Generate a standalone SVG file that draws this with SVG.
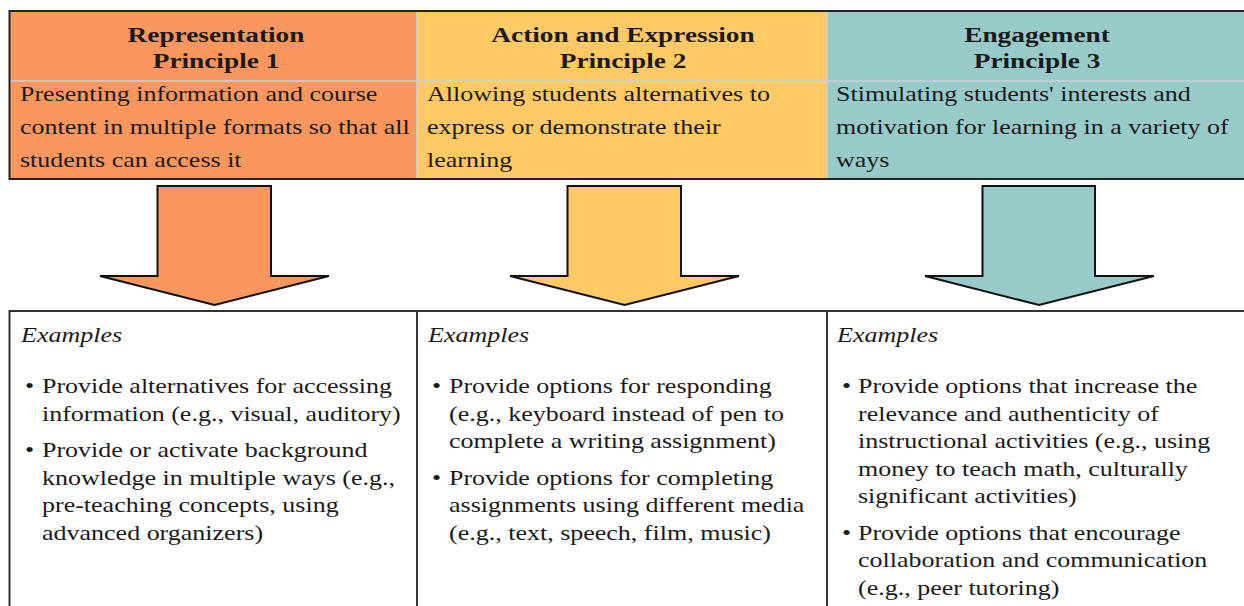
<svg xmlns="http://www.w3.org/2000/svg" width="1244" height="606" viewBox="0 0 1244 606">
  <style>
    .hd { font-family: "Liberation Serif", "Times New Roman", serif; font-weight: bold; font-size: 21px; fill: #1a1a1a; text-anchor: middle; }
    .bd { font-family: "Liberation Serif", "Times New Roman", serif; font-size: 20px; fill: #1a1a1a; }
    .ex { font-family: "Liberation Serif", "Times New Roman", serif; font-style: italic; font-size: 20px; fill: #1a1a1a; }
    .outer { fill: none; stroke: #222; stroke-width: 2; }
    .inner { stroke: #c9d0dc; stroke-width: 1.5; }
    .cell { stroke: #333; stroke-width: 2; fill: #fff; }
    .arr { stroke: #111; stroke-width: 2; stroke-linejoin: miter; }
    .c1 { fill: #F9975F; }
    .c2 { fill: #FFC964; }
    .c3 { fill: #98CACA; }
  </style>
  <rect x="0" y="0" width="1244" height="606" fill="#fff"/>

  <!-- Top principle cells -->
  <g id="principle1">
    <rect class="c1" x="9.5" y="11" width="407.5" height="168"/>
    <text class="hd" transform="translate(216,42) scale(1.3,1)">Representation</text>
    <text class="hd" transform="translate(216,68) scale(1.3,1)">Principle 1</text>
    <g class="bd">
      <text transform="translate(20,101) scale(1.3,1)">Presenting information and course</text>
      <text transform="translate(20,134) scale(1.3,1)">content in multiple formats so that all</text>
      <text transform="translate(20,167) scale(1.3,1)">students can access it</text>
    </g>
  </g>
  <g id="principle2">
    <rect class="c2" x="417" y="11" width="410" height="168"/>
    <text class="hd" transform="translate(623,42) scale(1.3,1)">Action and Expression</text>
    <text class="hd" transform="translate(623,68) scale(1.3,1)">Principle 2</text>
    <g class="bd">
      <text transform="translate(427,101) scale(1.3,1)">Allowing students alternatives to</text>
      <text transform="translate(427,134) scale(1.3,1)">express or demonstrate their</text>
      <text transform="translate(427,167) scale(1.3,1)">learning</text>
    </g>
  </g>
  <g id="principle3">
    <rect class="c3" x="827" y="11" width="420" height="168"/>
    <text class="hd" transform="translate(1037,42) scale(1.3,1)">Engagement</text>
    <text class="hd" transform="translate(1037,68) scale(1.3,1)">Principle 3</text>
    <g class="bd">
      <text transform="translate(836,101) scale(1.3,1)">Stimulating students' interests and</text>
      <text transform="translate(836,134) scale(1.3,1)">motivation for learning in a variety of</text>
      <text transform="translate(836,167) scale(1.3,1)">ways</text>
    </g>
  </g>
  <g id="top-grid">
    <line class="inner" x1="10" y1="81" x2="1244" y2="81"/>
    <line class="inner" x1="417" y1="12" x2="417" y2="178"/>
    <line class="inner" x1="827" y1="12" x2="827" y2="178"/>
    <path class="outer" d="M1246,11 H9.5 V179 H1246"/>
  </g>

  <!-- Connectors: block arrows -->
  <g id="connectors">
    <polygon class="arr c1" points="157.5,186 271,186 271,276 329,276 214.5,305 100,276 157.5,276"/>
    <polygon class="arr c2" points="567.5,186 681,186 681,276 739,276 624.5,305 510,276 567.5,276"/>
    <polygon class="arr c3" points="982.5,186 1095,186 1095,276 1154,276 1039,305 925,276 982.5,276"/>
  </g>

  <!-- Bottom example cells -->
  <g id="examples1">
    <path class="cell" d="M9.5,620 V311 H417 V620"/>
    <text class="ex" transform="translate(21,342) scale(1.3,1)">Examples</text>
    <g class="bd">
      <text transform="translate(25,393) scale(1.3,1)">•</text>
      <text transform="translate(42,393) scale(1.3,1)">Provide alternatives for accessing</text>
      <text transform="translate(42,420.5) scale(1.3,1)">information (e.g., visual, auditory)</text>
      <text transform="translate(25,457) scale(1.3,1)">•</text>
      <text transform="translate(42,457) scale(1.3,1)">Provide or activate background</text>
      <text transform="translate(42,484.5) scale(1.3,1)">knowledge in multiple ways (e.g.,</text>
      <text transform="translate(42,512) scale(1.3,1)">pre-teaching concepts, using</text>
      <text transform="translate(42,539.5) scale(1.3,1)">advanced organizers)</text>
    </g>
  </g>
  <g id="examples2">
    <path class="cell" d="M417,620 V311 H827 V620"/>
    <text class="ex" transform="translate(428,342) scale(1.3,1)">Examples</text>
    <g class="bd">
      <text transform="translate(432,393) scale(1.3,1)">•</text>
      <text transform="translate(449,393) scale(1.3,1)">Provide options for responding</text>
      <text transform="translate(449,420.5) scale(1.3,1)">(e.g., keyboard instead of pen to</text>
      <text transform="translate(449,448) scale(1.3,1)">complete a writing assignment)</text>
      <text transform="translate(432,484.5) scale(1.3,1)">•</text>
      <text transform="translate(449,484.5) scale(1.3,1)">Provide options for completing</text>
      <text transform="translate(449,512) scale(1.3,1)">assignments using different media</text>
      <text transform="translate(449,539.5) scale(1.3,1)">(e.g., text, speech, film, music)</text>
    </g>
  </g>
  <g id="examples3">
    <path class="cell" d="M827,620 V311 H1250"/>
    <text class="ex" transform="translate(837,342) scale(1.3,1)">Examples</text>
    <g class="bd">
      <text transform="translate(842,393) scale(1.3,1)">•</text>
      <text transform="translate(858,393) scale(1.3,1)">Provide options that increase the</text>
      <text transform="translate(858,420.5) scale(1.3,1)">relevance and authenticity of</text>
      <text transform="translate(858,448) scale(1.3,1)">instructional activities (e.g., using</text>
      <text transform="translate(858,475.5) scale(1.3,1)">money to teach math, culturally</text>
      <text transform="translate(858,503) scale(1.3,1)">significant activities)</text>
      <text transform="translate(842,539.5) scale(1.3,1)">•</text>
      <text transform="translate(858,539.5) scale(1.3,1)">Provide options that encourage</text>
      <text transform="translate(858,567) scale(1.3,1)">collaboration and communication</text>
      <text transform="translate(858,594.5) scale(1.3,1)">(e.g., peer tutoring)</text>
    </g>
  </g>
</svg>
